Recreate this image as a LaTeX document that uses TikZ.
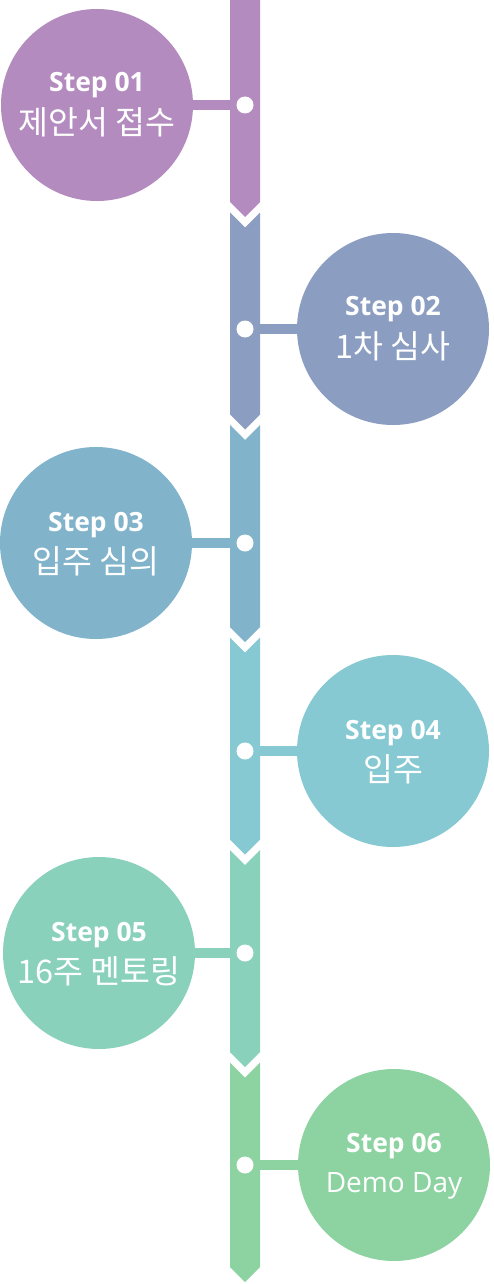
\documentclass[tikz,border=0pt]{standalone}
\usepackage{fontspec}
\newfontfamily\stepfont{Open Sans}
\newfontfamily\krfont{Noto Sans CJK KR}
\definecolor{col1}{HTML}{B38BBF}
\definecolor{col2}{HTML}{8B9EC1}
\definecolor{col3}{HTML}{81B3CA}
\definecolor{col4}{HTML}{87C9D3}
\definecolor{col5}{HTML}{8AD1BC}
\definecolor{col6}{HTML}{8DD3A1}
\tikzset{
  stepcircle/.style={circle, inner sep=0pt, minimum size=192pt},
  stepdot/.style={circle, fill=white, inner sep=0pt, minimum size=17pt},
  steplabel/.style={anchor=base, text=white, inner sep=0pt, font=\stepfont\bfseries\fontsize{26.5}{30}\selectfont},
  namelabel/.style={anchor=base, text=white, inner sep=0pt, font=\krfont\fontsize{32.5}{36}\selectfont},
  enlabel/.style={anchor=base, text=white, inner sep=0pt, font=\stepfont\fontsize{28}{34}\selectfont},
  conn/.style={line width=9.5pt},
}
\begin{document}
\begin{tikzpicture}[x=1pt,y=-1pt]
\useasboundingbox (0,0) rectangle (493,1284);
% circles
\node[stepcircle, fill=col1] (c1) at (97,105) {};
\node[stepcircle, fill=col2] (c2) at (393,329) {};
\node[stepcircle, fill=col3] (c3) at (96,543) {};
\node[stepcircle, fill=col4] (c4) at (393,751) {};
\node[stepcircle, fill=col5] (c5) at (99,953) {};
\node[stepcircle, fill=col6] (c6) at (394,1165) {};
% dot coordinates on the bar
\coordinate (p1) at (245,105);
\coordinate (p2) at (245,329);
\coordinate (p3) at (245,543);
\coordinate (p4) at (245,751);
\coordinate (p5) at (245,953);
\coordinate (p6) at (245,1165);
% connectors
\foreach \i in {1,...,6} {
  \draw[conn, draw=col\i] (c\i) -- (p\i);
}
% bar segments
\fill[col1] (230,0) -- (260,0) -- (260,202) -- (245,217) -- (230,202) -- cycle;
\foreach \i/\t in {2/212.5, 3/425, 4/637.5, 5/850} {
  \fill[col\i] (230,\t) -- (245,\t+15) -- (260,\t) -- (260,\t+202) -- (245,\t+217) -- (230,\t+202) -- cycle;
}
\fill[col6] (230,1062.5) -- (245,1077.5) -- (260,1062.5) -- (260,1267) -- (245,1282) -- (230,1267) -- cycle;
% dots
\foreach \i in {1,...,6} {
  \node[stepdot] (d\i) at (p\i) {};
}
% texts
\node[steplabel] (s1) at (97,92) {Step 01};
\node[namelabel] (n1) at (97,135) {제안서 접수};
\node[steplabel] (s2) at (393,315) {Step 02};
\node[namelabel] (n2) at (393,358) {1차 심사};
\node[steplabel] (s3) at (96,531) {Step 03};
\node[namelabel] (n3) at (96,573) {입주 심의};
\node[steplabel] (s4) at (393,739) {Step 04};
\node[namelabel] (n4) at (393,781) {입주};
\node[steplabel] (s5) at (99,941) {Step 05};
\node[namelabel] (n5) at (99,983) {16주 멘토링};
\node[steplabel] (s6) at (394,1152) {Step 06};
\node[enlabel] (n6) at (394,1192) {Demo Day};
\end{tikzpicture}
\end{document}
